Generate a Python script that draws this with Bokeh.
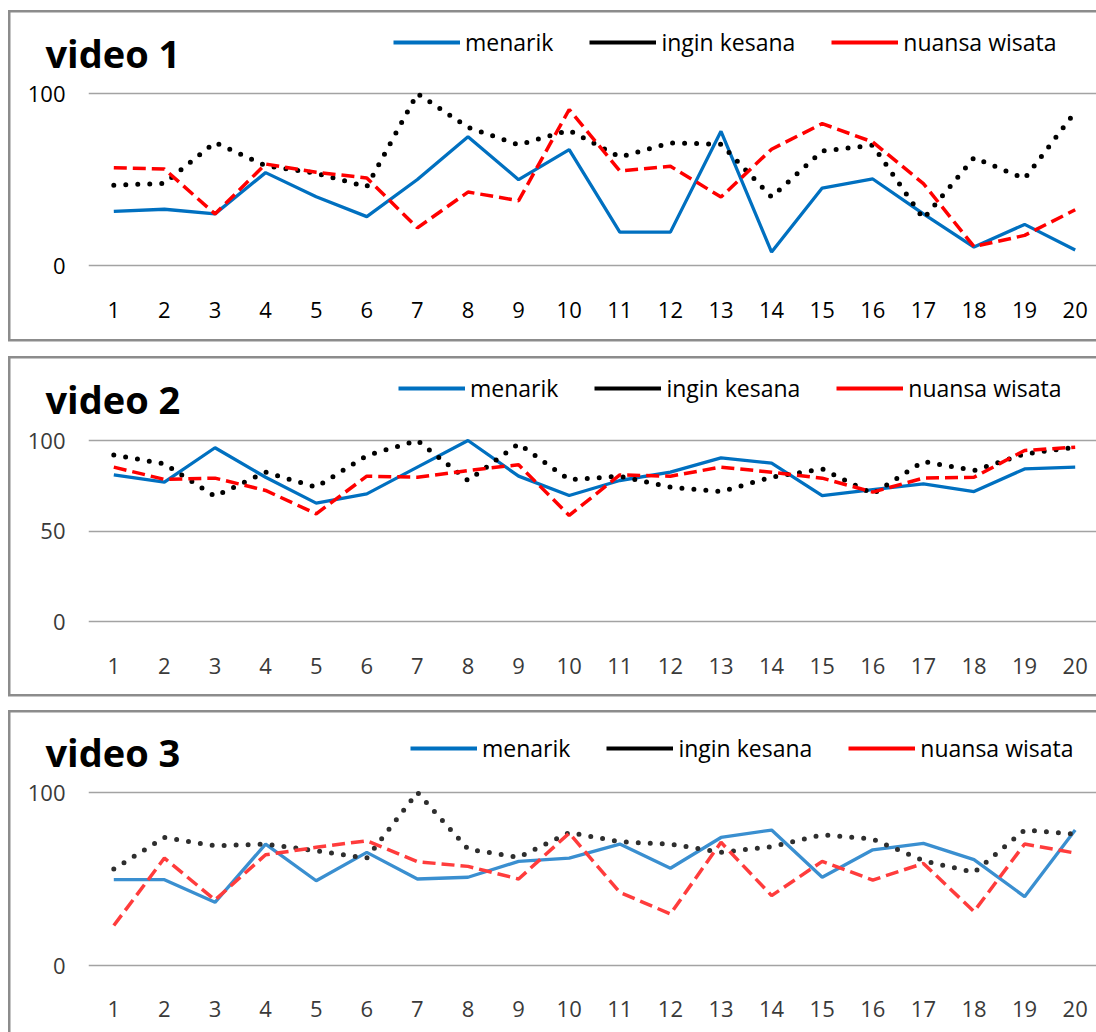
from bokeh.plotting import figure
from bokeh.layouts import column
from bokeh.models import Range1d, FixedTicker, Legend, LegendItem, Label
from bokeh.embed import file_html
from bokeh.resources import INLINE

# ---------------- data ----------------
days = list(range(1, 21))
x_tick_labels = [str(d) for d in days]
series_names = ["menarik", "ingin kesana", "nuansa wisata"]
panel_titles = ["video 1", "video 2", "video 3"]

v1_menarik = [31.5, 32.7, 30, 54, 40, 28.4, 50, 74.9, 49.9, 67.4, 19.4, 19.4, 78, 7.8, 45, 50.3, 30, 10.7, 23.9, 9]
v1_ingin = [46.6, 47.8, 71.6, 58, 53.6, 45.8, 100, 80.3, 70.2, 78.6, 63.1, 71.3, 70.5, 39.8, 66.6, 69.9, 27.2, 62.7, 50.5, 89.3]
v1_nuansa = [56.9, 56.1, 30, 59, 54.2, 50.9, 21.9, 42.7, 37.7, 90.7, 55, 57.7, 39.8, 67.6, 82.5, 71.8, 47.6, 11, 17.5, 32.4]

v2_menarik = [81, 77, 96, 79.7, 65.4, 70.5, 85.3, 100, 80.3, 69.6, 77.9, 82.5, 90.4, 87.5, 69.6, 72.9, 76, 71.8, 84.3, 85.3]
v2_ingin = [92, 87.1, 69.2, 82.5, 74.2, 91.7, 100, 77.9, 98.2, 78.3, 80.3, 74.2, 71.8, 79.7, 84.3, 70.5, 88.4, 83.4, 92.6, 96.3]
v2_nuansa = [85.3, 78.5, 79.2, 72.4, 59.5, 80.3, 79.7, 83.4, 86.6, 58.6, 81, 80.3, 85.3, 82.5, 79.2, 71.5, 79.2, 79.7, 94.5, 96.3]

v3_menarik = [49.6, 49.6, 36.5, 70.2, 49, 65.4, 50, 51, 60.2, 62.1, 70.2, 56.2, 74, 78.3, 51, 66.9, 70.6, 61.2, 39.8, 78.3]
v3_ingin = [55.8, 74, 69.2, 70.2, 66.3, 62.1, 100, 67.3, 62.5, 76.9, 71.5, 70.2, 65.4, 68.7, 75.6, 73.1, 60.6, 53.8, 78.3, 76]
v3_nuansa = [23.1, 62.1, 37.9, 64, 68.3, 72.1, 60, 57.3, 50, 76.5, 42.3, 29.8, 71.2, 40.4, 60.2, 49.4, 59, 31.2, 70.2, 65]

y_ticks_1 = [0, 100]
y_ticks_2 = [0, 50, 100]
y_ticks_3 = [0, 100]

FONT = "Open Sans"
W = 1096
FRAME_LEFT = 88
CAT_PX = 50.6
BORDER = "#8c8c8c"
BW = 2.5
BX = 8  # left border x
NAN = float("nan")


def header(title, H, border_top, title_y, legend_x, legend_bottom, colors):
    shadows = [f"inset {BX}px 0 0 0 #ffffff",
               f"inset 0 {border_top}px 0 0 #ffffff",
               f"inset {BX + BW}px 0 0 0 {BORDER}",
               f"inset 0 {border_top + BW}px 0 0 {BORDER}"]
    h = figure(width=W, height=H, output_backend="svg", toolbar_location=None,
               x_range=Range1d(0, W), y_range=Range1d(H, 0),
               x_axis_type=None, y_axis_type=None, frame_align=False,
               min_border=0, min_border_left=0, min_border_right=0,
               min_border_top=0, min_border_bottom=0,
               outline_line_color=None, background_fill_color=None,
               border_fill_color=None, styles={"box-shadow": ", ".join(shadows)})
    c_blue, c_black, c_red = colors
    r1 = h.line(x=[NAN], y=[NAN], line_color=c_blue, line_width=4)
    r2 = h.line(x=[NAN], y=[NAN], line_color=c_black, line_width=4)
    r3 = h.line(x=[NAN], y=[NAN], line_color=c_red, line_width=4)
    legend = Legend(items=[LegendItem(label=series_names[0], renderers=[r1]),
                           LegendItem(label=series_names[1], renderers=[r2]),
                           LegendItem(label=series_names[2], renderers=[r3])],
                    orientation="horizontal", location=(legend_x, H - legend_bottom),
                    border_line_color=None, background_fill_alpha=0,
                    padding=0, margin=0, spacing=36, glyph_width=67, glyph_height=24,
                    label_standoff=5, label_height=24,
                    label_text_font=FONT, label_text_font_size="23px",
                    label_text_color="#000000")
    h.add_layout(legend)
    h.add_layout(Label(x=45, y=title_y, text=title, text_font=FONT,
                       text_font_size="38px", text_font_style="bold",
                       text_baseline="middle", text_color="#000000"))
    return h


def main(m, k, n, yticks, H, y100, y0, border_bottom, label_standoff, colors, label_color):
    ppu = (y0 - y100) / 100.0
    frame_top = y100 - 12
    frame_bottom = y0 + 15
    y_start = -15 / ppu
    y_end = 100 + 12 / ppu
    x_end = 0.5 + (W - FRAME_LEFT) / CAT_PX
    shadows = [f"inset {BX}px 0 0 0 #ffffff"]
    if border_bottom is not None:
        shadows.append(f"inset 0 -{H - border_bottom - BW}px 0 0 #ffffff")
    shadows.append(f"inset {BX + BW}px 0 0 0 {BORDER}")
    if border_bottom is not None:
        shadows.append(f"inset 0 -{H - border_bottom}px 0 0 {BORDER}")
    p = figure(width=W, height=H, output_backend="svg", toolbar_location=None,
               x_range=Range1d(0.5, x_end), y_range=Range1d(y_start, y_end),
               frame_align=False,
               min_border_left=FRAME_LEFT, min_border_right=0,
               min_border_top=frame_top, min_border_bottom=H - frame_bottom,
               outline_line_color=None, background_fill_color="white",
               border_fill_color=None, styles={"box-shadow": ", ".join(shadows)})
    p.xgrid.grid_line_color = None
    p.ygrid.ticker = FixedTicker(ticks=yticks)
    p.ygrid.grid_line_color = "#a3a3a3"
    p.ygrid.grid_line_width = 1.6

    p.yaxis.ticker = FixedTicker(ticks=yticks)
    p.xaxis.ticker = FixedTicker(ticks=days)
    p.xaxis.major_label_overrides = {d: lbl for d, lbl in zip(days, x_tick_labels)}
    for ax in (p.xaxis, p.yaxis):
        ax.axis_line_color = None
        ax.major_tick_line_color = None
        ax.minor_tick_line_color = None
        ax.major_tick_out = 0
        ax.major_tick_in = 0
        ax.major_label_text_font = FONT
        ax.major_label_text_font_size = "22px"
        ax.major_label_text_color = label_color
    p.yaxis.major_label_standoff = 23
    p.xaxis.major_label_standoff = label_standoff

    c_blue, c_black, c_red = colors
    p.line(days, m, line_color=c_blue, line_width=3.3)
    p.line(days, k, line_color=c_black, line_width=5, line_dash="0 12", line_cap="round")
    p.line(days, n, line_color=c_red, line_width=3.5, line_dash="13 6")
    return p


std = ("#0070C0", "#000000", "#FF0000")
light = ("#3a8fd0", "#2e2e2e", "#ff3c3c")

h1 = header(panel_titles[0], H=78, border_top=10, title_y=52, legend_x=393, legend_bottom=58, colors=std)
m1 = main(v1_menarik, v1_ingin, v1_nuansa, y_ticks_1, H=270, y100=15, y0=187,
          border_bottom=261, label_standoff=21, colors=std, label_color="#000000")
h2 = header(panel_titles[1], H=78, border_top=8, title_y=50, legend_x=398, legend_bottom=56, colors=std)
m2 = main(v2_menarik, v2_ingin, v2_nuansa, y_ticks_2, H=276, y100=14, y0=195,
          border_bottom=268, label_standoff=21, colors=std, label_color="#3a3a3a")
h3 = header(panel_titles[2], H=76, border_top=8, title_y=49, legend_x=410, legend_bottom=62, colors=std)
m3 = main(v3_menarik, v3_ingin, v3_nuansa, y_ticks_3, H=254, y100=14, y0=187,
          border_bottom=None, label_standoff=20, colors=light, label_color="#3a3a3a")

layout = column(h1, m1, h2, m2, h3, m3, spacing=0)
open("out.html", "w").write(file_html(layout, INLINE))
